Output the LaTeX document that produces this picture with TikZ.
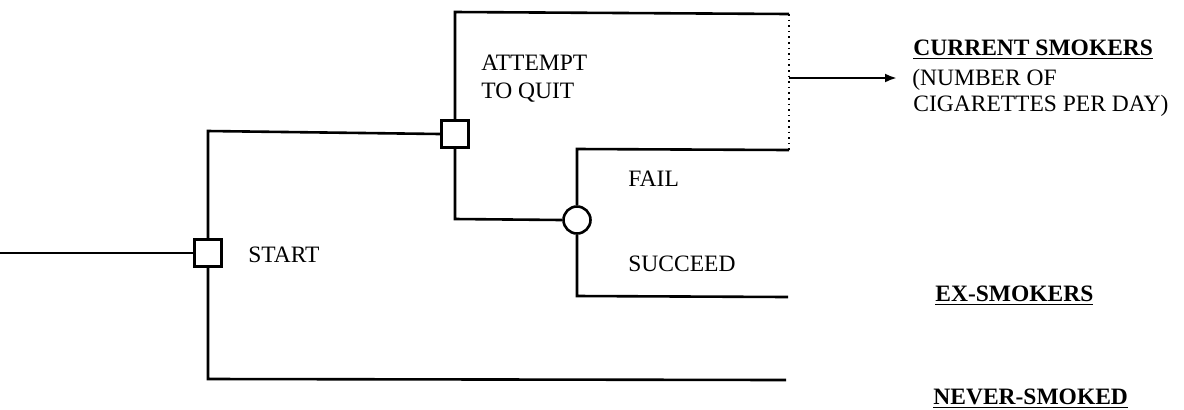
\documentclass[tikz,border=0pt]{standalone}
\usepackage{fontspec}
\setmainfont{Liberation Serif}
\usetikzlibrary{arrows.meta}
\begin{document}
\begin{tikzpicture}[x=0.5pt,y=-0.5pt,
  line/.style={line width=1.3pt},
  decision/.style={draw,line width=1.3pt,rectangle,minimum size=13.5pt,inner sep=0pt,fill=white},
  chance/.style={draw,line width=1.3pt,circle,minimum size=13.5pt,inner sep=0pt,fill=white},
  lbl/.style={anchor=base west,inner sep=0pt,font=\fontsize{11.75pt}{14pt}\selectfont},
  outcome/.style={anchor=base west,inner sep=0pt,font=\fontsize{11.75pt}{14pt}\selectfont\bfseries}]
\useasboundingbox (0,0) rectangle (1184,409);
% nodes
\node[decision] (start) at (208,253) {};
\node[decision] (attempt) at (455,134) {};
\node[chance] (chance) at (577,220) {};
\coordinate (in) at (0,253);
\coordinate (stop) at (208,131);
\coordinate (sbot) at (208,379);
\coordinate (atop) at (455,12);
\coordinate (abot) at (455,219);
\coordinate (ctop) at (577,149);
\coordinate (cbot) at (577,296);
\coordinate (etop) at (789,14);
\coordinate (efail) at (789,150);
\coordinate (esucc) at (788,297);
\coordinate (enever) at (786,380);
\coordinate (arrs) at (789,78);
\coordinate (arre) at (897,78);
% connectors
\draw[line] (in) -- (start.west);
\draw[line] (start.north) -- (stop) -- (attempt.west);
\draw[line] (start.south) -- (sbot) -- (enever);
\draw[line] (attempt.north) -- (atop) -- (etop);
\draw[line] (attempt.south) -- (abot) -- (chance.west);
\draw[line] (chance.north) -- (ctop) -- (efail);
\draw[line] (chance.south) -- (cbot) -- (esucc);
\draw[line width=0.8pt,dotted] (etop) -- (efail);
\draw[line,-{Latex[length=6pt,width=4.5pt]}] (arrs) -- (arre);
% labels
\node[lbl] (lstart) at (248,262) {START};
\node[lbl,align=left] (lattempt) at (481,98) {ATTEMPT\\TO QUIT};
\node[lbl] (lfail) at (628,186) {FAIL};
\node[lbl] (lsucc) at (628,271) {SUCCEED};
\node[outcome] (lcur) at (913,55) {\underline{CURRENT SMOKERS}};
\node[lbl] (lnum) at (912,85) {(NUMBER OF};
\node[lbl] (lcig) at (913,111) {CIGARETTES PER DAY)};
\node[outcome] (lex) at (935,301) {\underline{EX-SMOKERS}};
\node[outcome] (lnever) at (933,404) {\underline{NEVER-SMOKED}};
\end{tikzpicture}
\end{document}
